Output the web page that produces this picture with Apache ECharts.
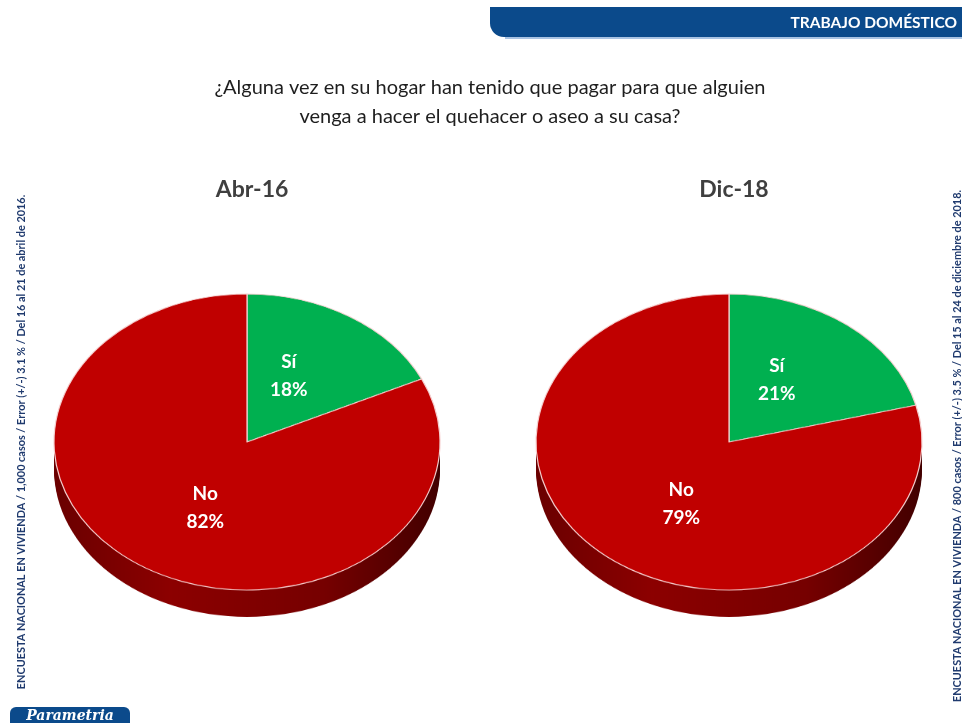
<!DOCTYPE html>
<html><head><meta charset="utf-8">
<script src="https://cdn.jsdelivr.net/npm/echarts@6/dist/echarts.min.js"></script>
<style>
html,body{margin:0;padding:0;background:#fff;}
#wrap{position:relative;width:962px;height:723px;overflow:hidden;background:#fff;}
#pies{position:absolute;left:0;top:0;width:962px;height:723px;transform-origin:0 442px;transform:scaleY(0.767);}
#main{position:absolute;left:0;top:0;width:962px;height:723px;}
</style></head><body>
<div id="wrap"><div id="pies"></div><div id="main"></div></div>
<script>
// ---- data ----
const categories = ['Sí', 'No'];
const periods = ['Abr-16', 'Dic-18'];
const abr16 = [18, 82];
const dic18 = [21, 79];
const headerText = 'TRABAJO DOMÉSTICO';
const questionLines = ['¿Alguna vez en su hogar han tenido que pagar para que alguien', 'venga a hacer el quehacer o aseo a su casa?'];
const sideNotes = [
  'ENCUESTA NACIONAL EN VIVIENDA / 1,000 casos / Error (+/-) 3.1 % / Del 16 al 21 de abril de 2016.',
  'ENCUESTA NACIONAL EN VIVIENDA / 800 casos / Error (+/-) 3.5 % / Del 15 al 24 de diciembre de 2018.'
];
const logoText = 'Parametria';

// ---- layout ----
const valuesList = [abr16, dic18];
const centersX = [247, 729];
const centerY = 442;
const R = 193;          // radius before vertical squash
const depth = 35;       // depth before squash
const sliceColors = ['#00b050', '#c00000'];
const FONT = 'Lato, "Open Sans", sans-serif';

// ---- pie faces (squashed container) ----
const pieChart = echarts.init(document.getElementById('pies'), null, {renderer: 'canvas'});
const pieSeries = [];
valuesList.forEach((vals, i) => {
  const total = vals.reduce((a, b) => a + b, 0);
  for (let k = depth; k >= 3; k -= 3) {
    pieSeries.push({
      type: 'pie', silent: true, animation: false,
      center: [centersX[i], centerY + k], radius: R,
      label: {show: false}, labelLine: {show: false},
      itemStyle: {
        color: new echarts.graphic.LinearGradient(0, 0, 1, 0, [
          {offset: 0, color: '#6a0000'}, {offset: 0.3, color: '#8c0000'},
          {offset: 0.7, color: '#760000'}, {offset: 1, color: '#420000'}
        ]),
        borderWidth: 0
      },
      data: [{name: 'depth', value: total}]
    });
  }
  pieSeries.push({
    type: 'pie', silent: true, animation: false,
    center: [centersX[i], centerY], radius: R, startAngle: 90, clockwise: true,
    label: {show: false}, labelLine: {show: false},
    itemStyle: {borderColor: '#f6d0d0', borderWidth: 1.2},
    data: categories.map((c, j) => ({name: c, value: vals[j], itemStyle: {color: sliceColors[j]}}))
  });
});
pieChart.setOption({backgroundColor: 'transparent', series: pieSeries});

// ---- text layer ----
const chart = echarts.init(document.getElementById('main'), null, {renderer: 'canvas'});
const labelSeries = valuesList.map((vals, i) => ({
  type: 'pie', silent: true, animation: false,
  center: [centersX[i], centerY], radius: 150, startAngle: 90, clockwise: true,
  itemStyle: {color: 'rgba(0,0,0,0)'},
  labelLine: {show: false},
  label: {
    show: true, position: 'inside', color: '#ffffff',
    fontFamily: FONT, fontWeight: 'bold', fontSize: 19, lineHeight: 28,
    formatter: p => p.name + '\n' + p.value + '%'
  },
  data: categories.map((c, j) => ({name: c, value: vals[j]}))
}));

chart.setOption({
  backgroundColor: 'transparent',
  title: periods.map((p, i) => ({
    text: p, left: centersX[i], top: 173, textAlign: 'center',
    textStyle: {fontFamily: FONT, fontWeight: 'bold', fontSize: 23, color: '#3f3f3f'}
  })),
  graphic: [
    {type: 'rect', shape: {x: 490, y: 7, width: 480, height: 30, r: [0, 0, 0, 14]}, style: {fill: '#0b4a8b'}},
    {type: 'rect', shape: {x: 505, y: 37, width: 460, height: 2}, style: {fill: '#a9c3e3'}},
    {type: 'text', x: 957, y: 23, style: {text: headerText, align: 'right', verticalAlign: 'middle', fill: '#ffffff', font: 'bold 15.5px ' + FONT}},
    {type: 'text', x: 490, y: 88, style: {text: questionLines[0], align: 'center', verticalAlign: 'middle', fill: '#1e1e1e', font: '20px ' + FONT}},
    {type: 'text', x: 490, y: 117, style: {text: questionLines[1], align: 'center', verticalAlign: 'middle', fill: '#1e1e1e', font: '20px ' + FONT}},
    {type: 'text', x: 21, y: 442, rotation: Math.PI / 2, style: {text: sideNotes[0], align: 'center', verticalAlign: 'middle', fill: '#1f3a6e', font: 'bold 10.9px ' + FONT}},
    {type: 'text', x: 957, y: 446, rotation: Math.PI / 2, style: {text: sideNotes[1], align: 'center', verticalAlign: 'middle', fill: '#1f3a6e', font: 'bold 10.9px ' + FONT}},
    {type: 'rect', shape: {x: 10, y: 707, width: 120, height: 22, r: [6, 6, 0, 0]}, style: {fill: '#0b4a8b'}},
    {type: 'text', x: 70, y: 716, style: {text: logoText, align: 'center', verticalAlign: 'middle', fill: '#ffffff', font: 'italic bold 14px "DejaVu Serif", serif'}}
  ],
  series: labelSeries
});
</script>
</body></html>
